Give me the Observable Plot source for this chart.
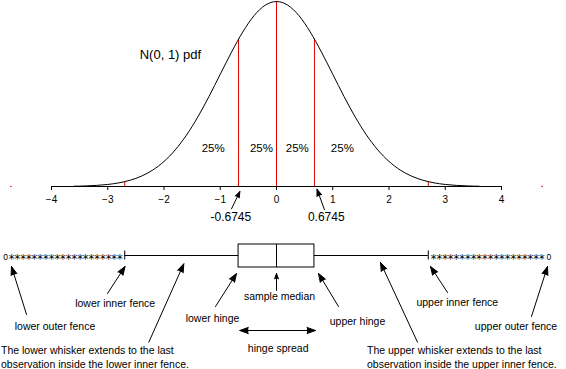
<!DOCTYPE html>
<html>
<head>
<meta charset="utf-8">
<style>
  html, body { margin: 0; padding: 0; background: #fff; }
  #chart svg { display: block; }
</style>
<script src="https://cdn.jsdelivr.net/npm/d3@7"></script>
<script src="https://cdn.jsdelivr.net/npm/@observablehq/plot@0.6"></script>
</head>
<body>
<div id="chart"></div>
<script>
// ---------- data ----------
const zValues = [-3.6,-3.4,-3.2,-3.0,-2.8,-2.6,-2.4,-2.2,-2.0,-1.8,-1.6,-1.4,-1.2,-1.0,-0.8,-0.6,-0.4,-0.2,0,
                 0.2,0.4,0.6,0.8,1.0,1.2,1.4,1.6,1.8,2.0,2.2,2.4,2.6,2.8,3.0,3.2,3.4,3.6];
const pdfValues = [0.0006,0.0012,0.0024,0.0044,0.0079,0.0136,0.0224,0.0355,0.0540,0.0790,0.1109,0.1497,0.1942,0.2420,0.2897,0.3332,0.3683,0.3910,0.3989,
                   0.3910,0.3683,0.3332,0.2897,0.2420,0.1942,0.1497,0.1109,0.0790,0.0540,0.0355,0.0224,0.0136,0.0079,0.0044,0.0024,0.0012,0.0006];
const tickValues = [-4, -3, -2, -1, 0, 1, 2, 3, 4];
const markerZ = [-2.698, -0.6745, 0, 0.6745, 2.698];      // lower inner fence, Q1, median, Q3, upper inner fence
const markerPdf = [0.0105, 0.3178, 0.3989, 0.3178, 0.0105];
const outerFences = [-4.7215, 4.7215];
const innerFences = [-2.698, 2.698];
const hinges = [-0.6745, 0.6745];
const median = 0;

const curveTitle = "N(0, 1) pdf";
const quarterLabels = ["25%", "25%", "25%", "25%"];
const quartileLabels = ["-0.6745", "0.6745"];
const outlierMark = "0";
const outlierRun = "********************";
const boxLabels = ["lower outer fence", "lower inner fence", "lower hinge", "sample median",
                   "upper hinge", "upper inner fence", "upper outer fence", "hinge spread"];
const whiskerNotes = ["The lower whisker extends to the last\nobservation inside the lower inner fence.",
                      "The upper whisker extends to the last\nobservation inside the upper inner fence."];

// ---------- layout (annotation placement, in scale units) ----------
const RED = "#e00000";
const FONT = "'Liberation Sans', Arial, Helvetica, sans-serif";
const layout = {
  title: {x: -1.886, y: 0.2739},
  quarterX: [-1.125, -0.267, 0.37, 1.171], quarterY: 0.074,
  quartileLabelX: [-0.812, 0.884], quartileLabelY: -0.0748,
  quartileArrows: [[-0.8, -0.0481, -0.651, -0.0108], [0.853, -0.0502, 0.72, -0.0058]],
  boxLabelPos: [[-3.938, -74.5], [-2.868, -51], [-1.138, -66.5], [0.053, -44.2],
                [1.44, -69.8], [3.214, -50.8], [4.258, -74.2], [0.03, -96.8]],
  notePos: [[-4.898, -112.5], [1.609, -112.5]],
  boxArrows: [[-4.444, -59, -4.711, -11], [-3.004, -38, -2.693, -11], [-2.27, -86.7, -1.648, -8.3],
              [-1.084, -51, -0.711, -18], [0, -35, 0, -18], [1.102, -51, 0.747, -18],
              [0.018, -75, -0.652, -75], [0.018, -75, 0.693, -75],
              [2.507, -86.7, 1.849, -7], [3.04, -37, 2.738, -11], [4.533, -61, 4.818, -11]]
};

const W = 566, ML = 51, MR = 65;
const baseStyle = {fontFamily: FONT, fontSize: "10px", background: "#fff", color: "#000", overflow: "visible"};

// ---------- top: the N(0,1) density ----------
const curve = zValues.map((z, i) => ({z, p: pdfValues[i]}));
const markers = markerZ.map((z, i) => ({z, p: markerPdf[i]}));
const quarters = quarterLabels.map((t, i) => ({t, x: layout.quarterX[i], y: layout.quarterY}));
const qLabels = quartileLabels.map((t, i) => ({t, x: layout.quartileLabelX[i], y: layout.quartileLabelY}));
const qArrows = layout.quartileArrows.map(([x1, y1, x2, y2]) => ({x1, y1, x2, y2}));

const densityChart = Plot.plot({
  width: W, height: 226, marginTop: 1, marginBottom: 40, marginLeft: ML, marginRight: MR,
  x: {domain: [-4, 4], label: null},
  y: {domain: [0, 0.39894], axis: null},
  style: baseStyle,
  marks: [
    Plot.ruleX(markers, {x: "z", y1: 0, y2: "p", stroke: RED, strokeWidth: 1}),
    Plot.line(curve, {x: "z", y: "p", curve: "monotone-x", stroke: "#000", strokeWidth: 1}),
    Plot.ruleY([0], {stroke: "#000", strokeWidth: 1}),
    Plot.axisX(tickValues, {tickSize: 4, tickPadding: 5, label: null, fontSize: 10}),
    Plot.dot(outerFences, {x: d => d, y: 0, r: 0.8, fill: RED, stroke: null}),
    Plot.text([curveTitle], {x: layout.title.x, y: layout.title.y, text: d => d, fontSize: 13, lineAnchor: "bottom"}),
    Plot.text(quarters, {x: "x", y: "y", text: "t", fontSize: 11.5, lineAnchor: "bottom"}),
    Plot.arrow(qArrows, {x1: "x1", y1: "y1", x2: "x2", y2: "y2", stroke: "#000", fill: "#000",
                         strokeWidth: 1, headLength: 13.5, headAngle: 40}),
    Plot.text(qLabels, {x: "x", y: "y", text: "t", fontSize: 12, lineAnchor: "bottom"})
  ]
});

// ---------- bottom: the schematic box plot ----------
const labelsData = boxLabels.map((t, i) => ({t, x: layout.boxLabelPos[i][0], y: layout.boxLabelPos[i][1]}));
const notesData = whiskerNotes.map((t, i) => ({t, x: layout.notePos[i][0], y: layout.notePos[i][1]}));
const bArrows = layout.boxArrows.map(([x1, y1, x2, y2]) => ({x1, y1, x2, y2}));
const starFont = {fontFamily: "'DejaVu Sans', sans-serif", fontSize: 11.4, lineAnchor: "bottom"};

const boxChart = Plot.plot({
  width: W, height: 143, marginTop: 0, marginBottom: 0, marginLeft: ML, marginRight: MR,
  x: {domain: [-4, 4], axis: null},
  y: {domain: [-114, 29], axis: null},
  style: baseStyle,
  marks: [
    Plot.ruleY([0], {x1: innerFences[0], x2: innerFences[1], stroke: "#000"}),
    Plot.ruleX(innerFences, {y1: -4.5, y2: 4.5, stroke: "#000"}),
    Plot.rect([hinges], {x1: d => d[0], x2: d => d[1], y1: -12, y2: 11, fill: "#fff", stroke: "#000"}),
    Plot.ruleX([median], {y1: -12, y2: 11, stroke: "#000"}),
    Plot.text([outlierRun], {x: innerFences[0], y: -7, dx: -2, text: d => d, textAnchor: "end", ...starFont}),
    Plot.text([outlierRun], {x: innerFences[1], y: -7, dx: 2.5, text: d => d, textAnchor: "start", ...starFont}),
    Plot.text([outlierMark], {x: outerFences[0], y: -4, dx: -3, text: d => d, textAnchor: "end",
                              lineAnchor: "bottom", fontSize: 8.5}),
    Plot.text([outlierMark], {x: outerFences[1], y: -4, dx: 4.5, text: d => d, textAnchor: "start",
                              lineAnchor: "bottom", fontSize: 8.5}),
    Plot.arrow(bArrows, {x1: "x1", y1: "y1", x2: "x2", y2: "y2", stroke: "#000", fill: "#000",
                         strokeWidth: 1, headLength: 13.5, headAngle: 40}),
    Plot.text(labelsData, {x: "x", y: "y", text: "t", fontSize: 10.5, lineAnchor: "bottom"}),
    Plot.text(notesData, {x: "x", y: "y", text: "t", fontSize: 10.5, lineAnchor: "bottom",
                          textAnchor: "start", lineHeight: 1.333})
  ]
});

const root = document.getElementById("chart");
root.appendChild(densityChart);
root.appendChild(boxChart);
</script>
</body>
</html>
